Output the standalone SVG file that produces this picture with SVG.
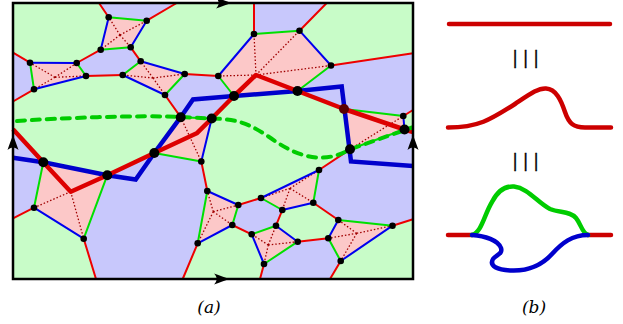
<svg xmlns="http://www.w3.org/2000/svg" width="623" height="324" viewBox="0 0 623 324">
<style>
.gf{fill:#c8fcc8;stroke:none}
.pf{fill:#fcc8c8;stroke:none}
.r{stroke:#ee0000;stroke-width:2;fill:none;stroke-linecap:round}
.b{stroke:#0000ee;stroke-width:2;fill:none;stroke-linecap:round}
.g{stroke:#00e000;stroke-width:2;fill:none;stroke-linecap:round}
.d{stroke:#a00000;stroke-width:1.3;fill:none;stroke-dasharray:1.5 2}
.rt{stroke:#dd0000;stroke-width:4.5;fill:none;stroke-linejoin:round}
.bt{stroke:#0000cc;stroke-width:4.5;fill:none;stroke-linejoin:miter}
.gd{stroke:#00cc00;stroke-width:4;fill:none;stroke-dasharray:8 7;stroke-linecap:round}
.sn{fill:#000}
.bn{fill:#000}
.dk{fill:#5a0000}
.cr{stroke:#cc0000;stroke-width:4.5;fill:none;stroke-linecap:round}
.cg{stroke:#00cc00;stroke-width:4.5;fill:none;stroke-linecap:round}
.cb{stroke:#0000cc;stroke-width:4.5;fill:none;stroke-linecap:round}
.lbl{font-family:"DejaVu Serif",serif;font-style:italic;font-size:17px;fill:#000;text-anchor:middle}
.bar{font-family:"DejaVu Sans",sans-serif;font-size:17px;fill:#000;stroke:#000;stroke-width:0.3;text-anchor:middle}
</style>
<defs>
<path id="ah" d="M0 0 C-4 -1.5 -9 -3.5 -15 -5.5 C-11.5 -2 -11.5 2 -15 5.5 C-9 3.5 -4 1.5 0 0 Z" fill="#000"/>
</defs>

<g id="regions">
<rect x="13" y="3" width="400" height="276" fill="#c8c8fc"/>
<polygon class="gf" points="13,3 99,3 108.7,17.3 100.7,49.7 76.7,63 30,62.7 13,52.7"/>
<polygon class="gf" points="176.7,3 254,3 254,34 218.3,76 184.7,74 140.7,61.3 130.7,47.3 146.7,20.7"/>
<polygon class="gf" points="326.7,3 413,3 413,53.3 331,65.5 299.5,30.7"/>
<polygon class="gf" points="13,101.5 34,89.3 86,76 122.7,75 165,95 180.7,117.2 154.3,153 107.3,175.2 43.3,162.3 13,129.3"/>
<polygon class="gf" points="211.7,118.5 201.3,161.5 207.3,191 238.3,205 261,198 319,170 350,149.3 344,109 297.5,91 234,96"/>
<polygon class="gf" points="403.3,116 413,110 413,131.5 404.5,129.5"/>
<polygon class="gf" points="13,218.3 34,207.7 83.7,238.7 96,279 13,279"/>
<polygon class="gf" points="197.7,243.3 182.7,279 260,279 264,264 251.7,234.3 232.3,225"/>
<polygon class="gf" points="276,225.7 297.7,241.7 328.3,238.3 338.3,220 313.3,202.7 282.3,210"/>
<polygon class="gf" points="340.7,261 330,279 413,279 413,219.3 392.5,225.7"/>
</g>

<g id="cells">
<polygon class="pf" points="108.7,17.3 146.7,20.7 130.7,47.3 100.7,49.7"/>
<polygon class="pf" points="30,62.7 76.7,63 86,76 34,89.3"/>
<polygon class="pf" points="140.7,61.3 184.7,74 165,95 122.7,75"/>
<polygon class="pf" points="218.3,76 254,34 299.5,30.7 331,65.5 297.5,91 234,96"/>
<polygon class="pf" points="180.7,117.2 211.7,118.5 201.3,161.5 154.3,153"/>
<polygon class="pf" points="43.3,162.3 107.3,175.2 83.7,238.7 34,207.7"/>
<polygon class="pf" points="344,109 403.3,116 404.5,129.5 350,149.3"/>
<polygon class="pf" points="207.3,191 238.3,205 232.3,225 197.7,243.3"/>
<polygon class="pf" points="261,198 319,170 313.3,202.7 282.3,210"/>
<polygon class="pf" points="276,225.7 297.7,241.7 264,264 251.7,234.3"/>
<polygon class="pf" points="338.3,220 392.5,225.7 340.7,261 328.3,238.3"/>
</g>

<g id="connectors">
<g id="dotted">
<path class="d" d="M120,35 L108.7,17.3 M120,35 L146.7,20.7 M120,35 L130.7,47.3 M120,35 L100.7,49.7"/>
<path class="d" d="M55,77.3 L30,62.7 M55,77.3 L76.7,63 M55,77.3 L86,76 M55,77.3 L34,89.3"/>
<path class="d" d="M153,78 L140.7,61.3 M153,78 L184.7,74 M153,78 L165,95 M153,78 L122.7,75"/>
<path class="d" d="M256,75 L254,34 M256,75 L299.5,30.7 M256,75 L331,65.5 M256,75 L218.3,76"/>
<path class="d" d="M180.7,117.2 L201.3,161.5"/>
<path class="d" d="M70.7,191.7 L34,207.7 M70.7,191.7 L83.7,238.7"/>
<path class="d" d="M350,149.3 L403.3,116"/>
<path class="d" d="M213.3,211.7 L207.3,191 M213.3,211.7 L238.3,205 M213.3,211.7 L232.3,225 M213.3,211.7 L197.7,243.3"/>
<path class="d" d="M290,188.3 L261,198 M290,188.3 L319,170 M290,188.3 L313.3,202.7 M290,188.3 L282.3,210"/>
<path class="d" d="M268.3,245 L276,225.7 M268.3,245 L297.7,241.7 M268.3,245 L264,264 M268.3,245 L251.7,234.3"/>
<path class="d" d="M356.7,233.3 L338.3,220 M356.7,233.3 L392.5,225.7 M356.7,233.3 L340.7,261 M356.7,233.3 L328.3,238.3"/>
</g>
<g id="red-edges">
<path class="r" d="M108.7,17.3 L99,3 M146.7,20.7 L176.7,3 M130.7,47.3 L140.7,61.3 M100.7,49.7 L76.7,63 M30,62.7 L13,52.7 M34,89.3 L13,101.5 M86,76 L122.7,75 M184.7,74 L218.3,76 M165,95 L180.7,117.2 M254,34 L254,3 M299.5,30.7 L326.7,3 M331,65.5 L413,53.3 M403.3,116 L413,110 M34,207.7 L13,218.3 M83.7,238.7 L96,279 M201.3,161.5 L207.3,191 M238.3,205 L261,198 M232.3,225 L251.7,234.3 M197.7,243.3 L182.7,279 M319,170 L350,149.3 M313.3,202.7 L338.3,220 M282.3,210 L276,225.7 M297.7,241.7 L328.3,238.3 M264,264 L260,279 M340.7,261 L330,279 M392.5,225.7 L413,219.3"/>
</g>
<g id="green-edges">
<path class="g" d="M108.7,17.3 L146.7,20.7 M130.7,47.3 L100.7,49.7 M76.7,63 L86,76 M34,89.3 L30,62.7 M122.7,75 L140.7,61.3 M184.7,74 L165,95 M254,34 L299.5,30.7 M331,65.5 L297.5,91 M234,96 L218.3,76 M180.7,117.2 L211.7,118.5 M201.3,161.5 L154.3,153 M43.3,162.3 L34,207.7 M107.3,175.2 L83.7,238.7 M344,109 L403.3,116 M404.5,129.5 L350,149.3 M197.7,243.3 L207.3,191 M238.3,205 L232.3,225 M319,170 L313.3,202.7 M282.3,210 L261,198 M251.7,234.3 L276,225.7 M297.7,241.7 L264,264 M338.3,220 L392.5,225.7 M328.3,238.3 L340.7,261"/>
</g>
<g id="blue-edges">
<path class="b" d="M146.7,20.7 L130.7,47.3 M100.7,49.7 L108.7,17.3 M30,62.7 L76.7,63 M86,76 L34,89.3 M140.7,61.3 L184.7,74 M165,95 L122.7,75 M218.3,76 L254,34 M299.5,30.7 L331,65.5 M211.7,118.5 L201.3,161.5 M34,207.7 L83.7,238.7 M403.3,116 L404.5,129.5 M207.3,191 L238.3,205 M232.3,225 L197.7,243.3 M261,198 L319,170 M313.3,202.7 L282.3,210 M276,225.7 L297.7,241.7 M264,264 L251.7,234.3 M392.5,225.7 L340.7,261 M328.3,238.3 L338.3,220"/>
</g>
<g id="paths">
<polyline class="bt" points="13,157.7 43.3,162.3 107.3,175.2 135.7,179.5 154.3,153 180.7,117.2 193,99.5 234,96 297.5,91 341.7,86.5 351,161.5 413,166"/>
<polyline class="rt" points="13,129.3 43.3,162.3 70.7,191.7 107.3,175.2 154.3,153 196.7,133.3 211.7,118.5 234,96 256,75 297.5,91 344,109 404.5,129.5 413,132"/>
<path class="gd" d="M17,121 C60,118 140,115 181,117 L212,118.5 C240,119 252,125 275,141 C300,158 325,164 350,149.3 L405,130 L412,127.5"/>
</g>
</g>

<g id="nodes">
<g id="A1"><circle class="sn" cx="108.7" cy="17.3" r="3.3"/></g>
<g id="A2"><circle class="sn" cx="146.7" cy="20.7" r="3.3"/></g>
<g id="A3"><circle class="sn" cx="130.7" cy="47.3" r="3.3"/></g>
<g id="A4"><circle class="sn" cx="100.7" cy="49.7" r="3.3"/></g>
<g id="B1"><circle class="sn" cx="30" cy="62.7" r="3.3"/></g>
<g id="B2"><circle class="sn" cx="76.7" cy="63" r="3.3"/></g>
<g id="B3"><circle class="sn" cx="86" cy="76" r="3.3"/></g>
<g id="B4"><circle class="sn" cx="34" cy="89.3" r="3.3"/></g>
<g id="C1"><circle class="sn" cx="140.7" cy="61.3" r="3.3"/></g>
<g id="C2"><circle class="sn" cx="184.7" cy="74" r="3.3"/></g>
<g id="C3"><circle class="sn" cx="165" cy="95" r="3.3"/></g>
<g id="C4"><circle class="sn" cx="122.7" cy="75" r="3.3"/></g>
<g id="D1"><circle class="sn" cx="254" cy="34" r="3.3"/></g>
<g id="D2"><circle class="sn" cx="299.5" cy="30.7" r="3.3"/></g>
<g id="D3"><circle class="sn" cx="331" cy="65.5" r="3.3"/></g>
<g id="D4"><circle class="sn" cx="218.3" cy="76" r="3.3"/></g>
<g id="D5"><circle class="bn" cx="297.5" cy="91" r="5"/></g>
<g id="E"><circle class="bn" cx="234" cy="96" r="5"/></g>
<g id="I"><circle class="bn" cx="180.7" cy="117.2" r="5"/></g>
<g id="K"><circle class="bn" cx="211.7" cy="118.5" r="5"/></g>
<g id="N1"><circle class="sn" cx="201.3" cy="161.5" r="3.3"/></g>
<g id="H"><circle class="bn" cx="154.3" cy="153" r="5"/></g>
<g id="F"><circle class="bn" cx="43.3" cy="162.3" r="5"/></g>
<g id="G"><circle class="bn" cx="107.3" cy="175.2" r="5"/></g>
<g id="M1"><circle class="sn" cx="34" cy="207.7" r="3.3"/></g>
<g id="M2"><circle class="sn" cx="83.7" cy="238.7" r="3.3"/></g>
<g id="Dk"><circle class="dk" cx="344" cy="109" r="5"/></g>
<g id="T"><circle class="sn" cx="403.3" cy="116" r="3.3"/></g>
<g id="L"><circle class="bn" cx="404.5" cy="129.5" r="5"/></g>
<g id="J"><circle class="bn" cx="350" cy="149.3" r="5"/></g>
<g id="P1"><circle class="sn" cx="207.3" cy="191" r="3.3"/></g>
<g id="P2"><circle class="sn" cx="238.3" cy="205" r="3.3"/></g>
<g id="P3"><circle class="sn" cx="232.3" cy="225" r="3.3"/></g>
<g id="P4"><circle class="sn" cx="197.7" cy="243.3" r="3.3"/></g>
<g id="Q1"><circle class="sn" cx="261" cy="198" r="3.3"/></g>
<g id="Q2"><circle class="sn" cx="313.3" cy="202.7" r="3.3"/></g>
<g id="Q3"><circle class="sn" cx="319" cy="170" r="3.3"/></g>
<g id="Q4"><circle class="sn" cx="282.3" cy="210" r="3.3"/></g>
<g id="S1"><circle class="sn" cx="276" cy="225.7" r="3.3"/></g>
<g id="S2"><circle class="sn" cx="297.7" cy="241.7" r="3.3"/></g>
<g id="S3"><circle class="sn" cx="264" cy="264" r="3.3"/></g>
<g id="S4"><circle class="sn" cx="251.7" cy="234.3" r="3.3"/></g>
<g id="R1"><circle class="sn" cx="338.3" cy="220" r="3.3"/></g>
<g id="R2"><circle class="sn" cx="328.3" cy="238.3" r="3.3"/></g>
<g id="R3"><circle class="sn" cx="340.7" cy="261" r="3.3"/></g>
<g id="R4"><circle class="sn" cx="392.5" cy="225.7" r="3.3"/></g>
</g>

<g id="frame">
<rect x="13" y="3" width="400" height="276" fill="none" stroke="#000" stroke-width="2.5"/>
<use href="#ah" transform="translate(231,3)"/>
<use href="#ah" transform="translate(229,279)"/>
<use href="#ah" transform="translate(13,135) rotate(-90)"/>
<use href="#ah" transform="translate(413,135) rotate(-90)"/>
</g>

<g id="panel-b">
<path class="cr" d="M449,24 L610,24"/>
<text class="bar" x="515 525.5 536" y="63.5">|||</text>
<path class="cr" d="M448,127.5 C478,127.5 490,120 515,104 C530,94 538,88 546,88.5 C556,89 561,100 565,112 C569,124 574,127.5 585,127.5 L611,127.5"/>
<text class="bar" x="515 525.5 536" y="166.5">|||</text>
<path class="cr" d="M448,235 L472,235 M588,235 L611,235"/>
<path class="cg" d="M472,235 C482,232 484,215 492,202 C498,190 506,186 514,186.5 C528,188 538,203 550,209 C560,213 570,211 576,218 C581,224 582,233 588,235"/>
<path class="cb" d="M472,235 C485,236 498,240 501,248 C503,254 496,255 493,259 C489,266 497,270 512,270.5 C530,271 542,265 552,254 C562,243 572,235 588,235"/>
</g>

<g id="labels">
<text class="lbl" x="209" y="313">(a)</text>
<text class="lbl" x="534" y="313">(b)</text>
</g>
</svg>
